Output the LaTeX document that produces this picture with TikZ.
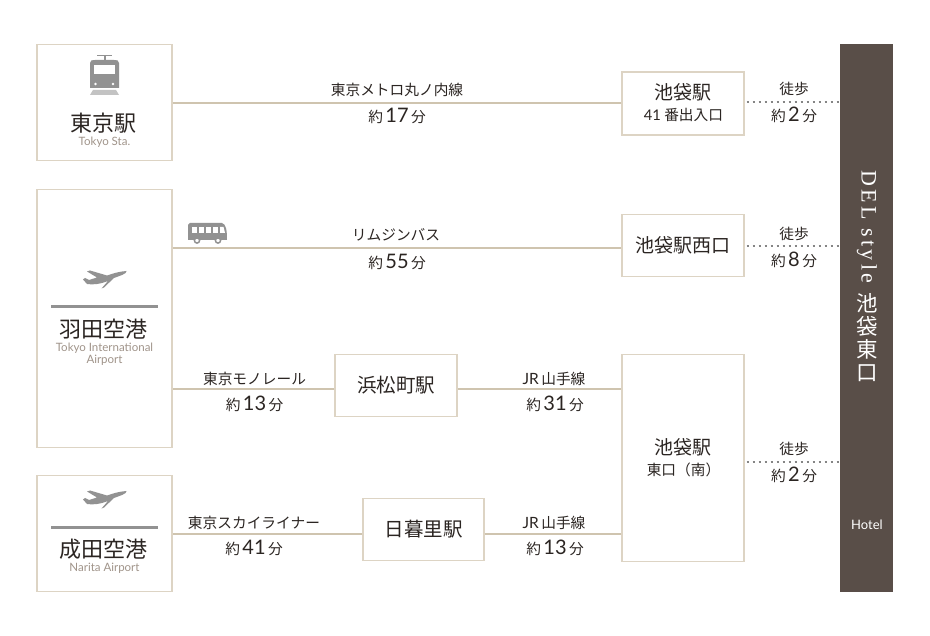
\documentclass[tikz,border=0pt]{standalone}
\usepackage{fontspec}
\usepackage{xcolor}
\setmainfont{Noto Sans CJK JP}
\newfontfamily\latinfont{Lato}
\newfontfamily\hotelfont[LetterSpace=15]{Liberation Serif}
\definecolor{colorBorder}{HTML}{DDD4C4}
\definecolor{colorLine}{HTML}{CFC4AF}
\definecolor{colorHotel}{HTML}{594E48}
\definecolor{colorIcon}{HTML}{929292}
\definecolor{colorDots}{HTML}{858585}
\definecolor{colorSub}{HTML}{A0948A}
\definecolor{colorInk}{HTML}{2B2522}
\newcommand{\fare}[1]{約\,{\latinfont\fontsize{20}{20}\selectfont #1}\,分}
\newcommand{\jrname}{{\latinfont\fontsize{15.5}{16}\selectfont JR}\,山手線}
\tikzset{
    stationbox/.style={draw=colorBorder,line width=1.3pt,fill=white,inner sep=0pt},
    railline/.style={draw=colorLine,line width=2pt},
    walkline/.style={draw=colorDots,line width=2pt,dash pattern=on 2pt off 4pt},
    bigname/.style={text=colorInk,font=\fontsize{22}{24}\selectfont,inner sep=0pt},
    midname/.style={text=colorInk,font=\fontsize{19}{21}\selectfont,inner sep=0pt},
    smallname/.style={text=colorInk,font=\fontsize{14.7}{16}\selectfont,inner sep=0pt},
    subname/.style={text=colorSub,font=\latinfont\fontsize{11.5}{12}\selectfont,align=center,inner sep=0pt},
    plane/.pic={
        \fill[colorIcon] (43.5,1) .. controls (36,1.5) and (30,3.5) .. (24,5.5) -- (7,.5) -- (4,1.5) -- (14,7.5) -- (6,10) -- (2,8) -- (0,9.5) -- (4,14) .. controls (10,15) and (18,14) .. (25,11) -- (18.5,18.5) -- (21,17.5) -- (31,8) .. controls (36,6) and (44,4) .. (43.5,1) -- cycle;
    },
}

\begin{document}
\begin{tikzpicture}[x=1pt,y=-1pt]
        \useasboundingbox (0,0) rectangle (930,636);

        % left column
        \node[stationbox,minimum width=135,minimum height=116] (tokyo) at (104.5,102.5) {};
        \node[stationbox,minimum width=135,minimum height=258] (haneda) at (104.5,318.5) {};
        \node[stationbox,minimum width=135,minimum height=116] (narita) at (104.5,533.5) {};

        % stations on the way
        \node[stationbox,minimum width=122,minimum height=63] (ikeMaru) at (683,103.5) {};
        \node[stationbox,minimum width=122,minimum height=62] (ikeWest) at (683,245.5) {};
        \node[stationbox,minimum width=122,minimum height=207] (ikeEast) at (683,458) {};
        \node[stationbox,minimum width=122,minimum height=62,text=colorInk,font=\fontsize{19.5}{21}\selectfont] (hamamatsu) at (396,385.5) {浜松町駅};
        \node[stationbox,minimum width=121,minimum height=62,text=colorInk,font=\fontsize{19.5}{21}\selectfont] (nippori) at (423.5,529.5) {日暮里駅};

        % hotel
        \node[fill=colorHotel,minimum width=53,minimum height=548,inner sep=0pt] (hotel) at (866.5,318) {};

        % rail lines
        \draw[railline] (ikeMaru.west) -- (ikeMaru.west -| tokyo.east);
        \draw[railline] (haneda.east |- 0,248) -- (ikeWest.west |- 0,248);
        \draw[railline] (hamamatsu.west |- 0,389.5) -- (haneda.east |- 0,389.5);
        \draw[railline] (hamamatsu.east |- 0,389.5) -- (ikeEast.west |- 0,389.5);
        \draw[railline] (nippori.west |- narita.east) -- (narita.east);
        \draw[railline] (nippori.east |- narita.east) -- (ikeEast.west |- narita.east);

        % walking
        \draw[walkline] (ikeMaru.east |- 0,102) ++(2,0) -- (hotel.west |- 0,102);
        \draw[walkline] (ikeWest.east |- 0,246) ++(2,0) -- (hotel.west |- 0,246);
        \draw[walkline] (ikeEast.east |- 0,462) ++(2,0) -- (hotel.west |- 0,462);

        % names
        \node[bigname] (tokyoName) at (103.5,123) {東京駅};
        \node[subname] (tokyoSub) at (104.5,142) {Tokyo Sta.};
        \node[bigname] (hanedaName) at (103.5,329) {羽田空港};
        \node[subname] (hanedaSub) at (104.5,354) {Tokyo International\\Airport};
        \node[bigname] (naritaName) at (103.5,549) {成田空港};
        \node[subname] (naritaSub) at (104.5,568) {Narita Airport};
        \node[midname] (ikeMaruName) at (683,92) {池袋駅};
        \node[smallname] (ikeMaruSub) at (683.5,115) {{\latinfont 41} 番出入口};
        \node[midname] (ikeWestName) at (683,245) {池袋駅西口};
        \node[midname] (ikeEastName) at (683,447) {池袋駅};
        \node[smallname] (ikeEastSub) at (683.5,470) {東口（南）};

        % route labels
        \node[smallname] (maruLine) at (397,90) {東京メトロ丸ノ内線};
        \node[smallname] (maruTime) at (397,116) {\fare{17}};
        \node[smallname] (busLine) at (396,235) {リムジンバス};
        \node[smallname] (busTime) at (397,262) {\fare{55}};
        \node[smallname] (monoLine) at (254.5,379) {東京モノレール};
        \node[smallname] (monoTime) at (254.5,404) {\fare{13}};
        \node[smallname] (jrOneLine) at (554,379) {\jrname};
        \node[smallname] (jrOneTime) at (555,404) {\fare{31}};
        \node[smallname] (skyLine) at (254,523) {東京スカイライナー};
        \node[smallname] (skyTime) at (254,548) {\fare{41}};
        \node[smallname] (jrTwoLine) at (554,523) {\jrname};
        \node[smallname] (jrTwoTime) at (555,548) {\fare{13}};
        \node[smallname] (walkOne) at (794,89) {徒歩};
        \node[smallname] (walkOneTime) at (794,115) {\fare{2}};
        \node[smallname] (walkTwo) at (794,234) {徒歩};
        \node[smallname] (walkTwoTime) at (794,260) {\fare{8}};
        \node[smallname] (walkThree) at (794,449) {徒歩};
        \node[smallname] (walkThreeTime) at (794,475) {\fare{2}};

        % hotel text
        \node[text=white,font=\hotelfont\fontsize{22}{22}\selectfont,rotate=-90,inner sep=0pt] (hotelName) at (867,227) {DEL style};
        \node[text=white,font=\fontsize{21.5}{23}\selectfont,align=center,inner sep=0pt] (hotelArea) at (867,337.5) {池\\袋\\東\\口};
        \node[text=white,font=\latinfont\fontsize{13}{13}\selectfont,inner sep=0pt] (hotelTag) at (867,525) {Hotel};

        % airport rules
        \fill[colorIcon] (51,305) rectangle (158,308);
        \fill[colorIcon] (51,526) rectangle (158,529);

        % planes
        \pic at (83,270) {plane};
        \pic at (83,490) {plane};

        % train
        \fill[colorIcon] (90,63) .. controls (90,60) and (92,60) .. (95,60) -- (114,60) .. controls (117,60) and (119,60) .. (119,63) -- (119,88) -- (90,88) -- cycle;
        \fill[colorIcon] (97,55) rectangle (112,56.5);
        \fill[colorIcon] (103.5,56) rectangle (105.5,60);
        \fill[white] (94,65) rectangle (115,74);
        \fill[white] (95.5,84) circle (1.3);
        \fill[white] (113,84) circle (1.3);
        \fill[colorIcon!55] (93,90) -- (116,90) -- (119,95) -- (90,95) -- cycle;

        % bus
        \fill[colorIcon] (190,223) -- (222,223) .. controls (226,224) and (227,230) .. (227,240) -- (188,240) -- (188,225) -- cycle;
        \foreach \x in {192,199,206,213} {
            \fill[white] (\x,227) rectangle ++(5,6);
        }
        \fill[white] (220,227) -- (223.5,227) -- (225,233) -- (220,233) -- cycle;
        \foreach \x in {197,218} {
            \filldraw[fill=white,draw=colorIcon,line width=1.5pt] (\x,240.5) circle (2.6);
        }
    \end{tikzpicture}
\end{document}
